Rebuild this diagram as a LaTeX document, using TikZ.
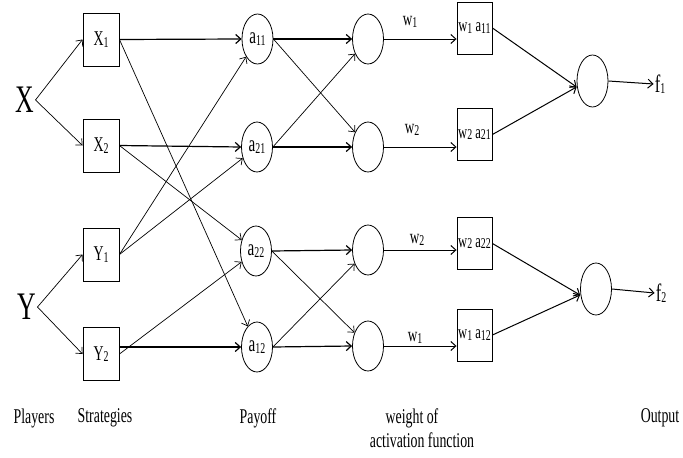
\documentclass[tikz,border=0pt]{standalone}
\usepackage{fontspec}
\setmainfont[FakeStretch=0.66]{Liberation Serif}
\usetikzlibrary{arrows.meta,shapes.geometric}
\newcommand\lsub[1]{\raisebox{-0.06em}{\fontsize{15}{15}\selectfont #1}}
\begin{document}
\begin{tikzpicture}[x=1pt,y=-1pt,
 box/.style={draw, line width=0.9pt, minimum width=36pt, minimum height=53pt, inner sep=0pt, font=\fontsize{21}{21}\selectfont},
 neuron/.style={draw, ellipse, line width=0.8pt, minimum width=31pt, minimum height=50pt, inner sep=0pt, font=\fontsize{23}{23}\selectfont},
 wbox/.style={draw, line width=0.9pt, minimum width=35pt, minimum height=52pt, inner sep=0pt, font=\fontsize{19}{19}\selectfont},
 arr/.style={-{Straight Barb[length=5pt,width=9pt]}, line width=0.7pt},
 harr/.style={arr, line width=1.2pt},
 lbl/.style={font=\fontsize{21}{21}\selectfont, inner sep=0pt},
 big/.style={font=\fontsize{39}{39}\selectfont, inner sep=1pt},
 wl/.style={font=\fontsize{20}{20}\selectfont, inner sep=0pt},
]
\useasboundingbox (0,0) rectangle (683,458);
% players
\node[big] (X) at (25,100) {X};
\node[big] (Y) at (27,307) {Y};
% strategies
\node[box] (X1) at (101,39.5) {X\lsub{1}};
\node[box] (X2) at (101,145.5) {X\lsub{2}};
\node[box] (Y1) at (101,254.5) {Y\lsub{1}};
\node[box] (Y2) at (101,354) {Y\lsub{2}};
% payoff
\node[neuron] (a11) at (257.5,39) {a\lsub{11}};
\node[neuron] (a21) at (257,147) {a\lsub{21}};
\node[neuron] (a22) at (256,251) {a\lsub{22}};
\node[neuron] (a12) at (257,347) {a\lsub{12}};
% activation
\node[neuron] (c1) at (368,39) {};
\node[neuron] (c2) at (368,147) {};
\node[neuron] (c3) at (368,250) {};
\node[neuron] (c4) at (368,346) {};
% weight boxes
\node[wbox] (w1) at (474.5,28) {w\lsub{1} a\lsub{11}};
\node[wbox] (w2) at (474.5,134.5) {w\lsub{2} a\lsub{21}};
\node[wbox] (w3) at (474.5,243.5) {w\lsub{2} a\lsub{22}};
\node[wbox] (w4) at (474.5,335) {w\lsub{1} a\lsub{12}};
% output
\node[neuron, minimum height=52pt] (o1) at (592.5,81) {};
\node[neuron, minimum height=52pt] (o2) at (596,289) {};
\node[font=\fontsize{25}{25}\selectfont, inner sep=1pt] (f1) at (660,84) {f\lsub{1}};
\node[font=\fontsize{25}{25}\selectfont, inner sep=1pt] (f2) at (661,293) {f\lsub{2}};
% players -> strategies
\draw[arr] (X.east) -- (X1.west);
\draw[arr] (X.east) -- (X2.west);
\draw[arr] (Y.east) -- (Y1.west);
\draw[arr] (Y.east) -- (Y2.west);
% strategies -> payoff
\draw[harr] (X1.east) -- (a11.west);
\draw[harr] (X2.east) -- (a21.west);
\draw[harr] (Y2.east |- a12.west) -- (a12.west);
\draw[arr] (X1.east) -- (a12);
\draw[arr] (X2.east) -- (a22);
\draw[arr] (Y1.east) -- (a11);
\draw[arr] (Y1.east) -- (a21);
\draw[arr] (Y2.east) -- (a22);
% payoff -> activation
\draw[harr] (a11.east) -- (c1.west);
\draw[harr] (a21.east) -- (c2.west);
\draw[harr] (a22.east) -- (c3.west);
\draw[harr] (a12.east) -- (c4.west);
\draw[arr] (a11.east) -- (c2);
\draw[arr] (a21.east) -- (c1);
\draw[arr] (a22.east) -- (c4);
\draw[arr] (a12.east) -- (c3);
% activation -> weight boxes
\draw[arr, line width=1pt] (c1.east) -- (c1.east -| w1.west);
\draw[arr, line width=1pt] (c2.east) -- (c2.east -| w2.west);
\draw[arr, line width=1pt] (c3.east) -- (c3.east -| w3.west);
\draw[arr, line width=1pt] (c4.east) -- (c4.east -| w4.west);
\node[wl] (lw1) at (410,22) {w\lsub{1}};
\node[wl] (lw2) at (412,130) {w\lsub{2}};
\node[wl] (lw3) at (417,240) {w\lsub{2}};
\node[wl] (lw4) at (415,338) {w\lsub{1}};
% weight -> output
\draw[arr, line width=1pt] (w1.east) -- ([yshift=-6pt]o1.west);
\draw[arr, line width=1pt] (w2.east) -- ([yshift=-6pt]o1.west);
\draw[arr, line width=1pt] (w3.east) -- ([yshift=-6pt]o2.west);
\draw[arr, line width=1pt] (w4.east) -- ([yshift=-6pt]o2.west);
\draw[arr, line width=1pt] (o1.east) -- (f1.west);
\draw[arr, line width=1pt] (o2.east) -- (f2.west);
% bottom labels
\node[lbl] (lp) at (34,418) {Players};
\node[lbl] (ls) at (105,418) {Strategies};
\node[lbl] (lpay) at (258,418) {Payoff};
\node[lbl] (lwo) at (412,418) {weight of};
\node[lbl] (laf) at (422,440) {activation function};
\node[lbl] (lo) at (660,418) {Output};
\end{tikzpicture}
\end{document}
